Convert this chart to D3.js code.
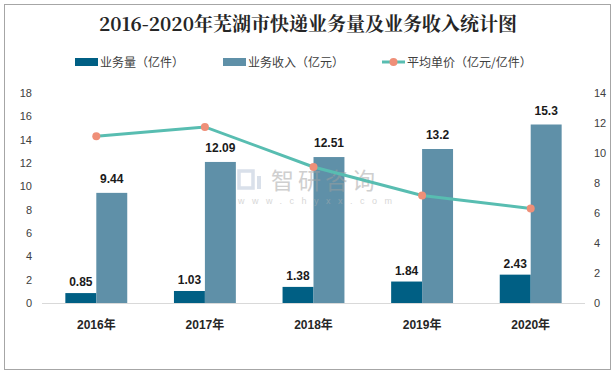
<!DOCTYPE html>
<html>
<head>
<meta charset="utf-8">
<script src="https://cdn.jsdelivr.net/npm/d3@7"></script>
<style>
  body { margin: 0; background: #fff; }
  svg text { font-family: "Liberation Sans", "Noto Sans CJK SC", sans-serif; }
</style>
</head>
<body>
<svg id="chart"></svg>
<script>
const YEARS = ["2016年", "2017年", "2018年", "2019年", "2020年"];
const VOLUME = [0.85, 1.03, 1.38, 1.84, 2.43];
const REVENUE = [9.44, 12.09, 12.51, 13.2, 15.3];
const UNIT_PRICE = [11.11, 11.74, 9.07, 7.17, 6.30];
const LEFT_TICKS = [0, 2, 4, 6, 8, 10, 12, 14, 16, 18];
const RIGHT_TICKS = [0, 2, 4, 6, 8, 10, 12, 14];
const SERIES_NAMES = ["业务量（亿件）", "业务收入（亿元）", "平均单价（亿元/亿件）"];

const WIDTH = 615, HEIGHT = 375;
const PLOT_LEFT = 42, PLOT_RIGHT = 585, PLOT_TOP = 93, PLOT_BOTTOM = 303;
const DARK = "#005f84", LIGHT = "#5f90a8", LINE = "#58bdb1", DOT = "#ef8f78";

const svg = d3.select("#chart").attr("width", WIDTH).attr("height", HEIGHT);

// frame
svg.append("rect")
    .attr("x", 4.5).attr("y", 4.5)
    .attr("width", 606).attr("height", 365)
    .attr("fill", "none")
    .attr("stroke", "#a6a6a6");

// title
svg.append("text")
    .attr("x", 308).attr("y", 31)
    .attr("text-anchor", "middle")
    .style("font-family", "'Noto Serif CJK SC', 'DejaVu Serif', 'Liberation Serif', serif")
    .attr("font-size", 19)
    .attr("font-weight", "bold")
    .attr("fill", "#262626")
    .text("2016-2020年芜湖市快递业务量及业务收入统计图");

const x = d3.scaleBand()
    .domain(YEARS)
    .range([PLOT_LEFT, PLOT_RIGHT])
    .paddingInner(0.43)
    .paddingOuter(0.215);
const xSub = d3.scaleBand()
    .domain([0, 1])
    .range([0, x.bandwidth()]);
const yLeft = d3.scaleLinear().domain([0, 18]).range([PLOT_BOTTOM, PLOT_TOP]);
const yRight = d3.scaleLinear().domain([0, 14]).range([PLOT_BOTTOM, PLOT_TOP]);

// left axis labels
svg.append("g")
    .attr("transform", `translate(32,0)`)
    .call(d3.axisLeft(yLeft).tickValues(LEFT_TICKS).tickSize(0).tickPadding(0))
    .call(g => g.select(".domain").remove())
    .call(g => g.selectAll("text")
        .attr("font-size", 11)
        .attr("fill", "#404040")
        .style("font-family", "'Liberation Sans', sans-serif"));

// right axis labels
svg.append("g")
    .attr("transform", `translate(594,0)`)
    .call(d3.axisRight(yRight).tickValues(RIGHT_TICKS).tickSize(0).tickPadding(0))
    .call(g => g.select(".domain").remove())
    .call(g => g.selectAll("text")
        .attr("font-size", 11)
        .attr("fill", "#404040")
        .style("font-family", "'Liberation Sans', sans-serif"));

// bars
const groups = svg.append("g").selectAll("g")
    .data(YEARS)
    .join("g")
    .attr("transform", d => `translate(${x(d)},0)`);

groups.append("rect")
    .attr("x", xSub(0))
    .attr("width", xSub.bandwidth())
    .attr("y", (d, i) => yLeft(VOLUME[i]))
    .attr("height", (d, i) => PLOT_BOTTOM - yLeft(VOLUME[i]))
    .attr("fill", DARK);

groups.append("rect")
    .attr("x", xSub(1))
    .attr("width", xSub.bandwidth())
    .attr("y", (d, i) => yLeft(REVENUE[i]))
    .attr("height", (d, i) => PLOT_BOTTOM - yLeft(REVENUE[i]))
    .attr("fill", LIGHT);

// baseline
svg.append("line")
    .attr("x1", PLOT_LEFT).attr("x2", PLOT_RIGHT)
    .attr("y1", PLOT_BOTTOM + 0.5).attr("y2", PLOT_BOTTOM + 0.5)
    .attr("stroke", "#d9d9d9");

// watermark (sits above the bars)
const wm = svg.append("g").attr("opacity", 0.5);
wm.append("rect").attr("x", 239).attr("y", 171).attr("width", 14).attr("height", 17)
    .attr("fill", "none").attr("stroke", "#b4c2d6").attr("stroke-width", 3.5);
wm.append("rect").attr("x", 257).attr("y", 176).attr("width", 4).attr("height", 13)
    .attr("fill", "#b4c2d6");
wm.append("text")
    .attr("x", 271).attr("y", 189)
    .attr("font-size", 23)
    .attr("fill", "#a0a0a0")
    .attr("letter-spacing", 4)
    .text("智研咨询");
wm.append("text")
    .attr("x", 238).attr("y", 204)
    .attr("font-size", 9)
    .attr("fill", "#b0b0b0")
    .attr("letter-spacing", 7.5)
    .text("www.chyxx.com");

// bar value labels
groups.append("text")
    .attr("x", xSub(0) + xSub.bandwidth() / 2)
    .attr("y", (d, i) => yLeft(VOLUME[i]) - 7)
    .attr("text-anchor", "middle")
    .attr("font-size", 12)
    .attr("font-weight", "bold")
    .attr("fill", "#1a1a1a")
    .text((d, i) => VOLUME[i]);

groups.append("text")
    .attr("x", xSub(1) + xSub.bandwidth() / 2)
    .attr("y", (d, i) => yLeft(REVENUE[i]) - 10)
    .attr("text-anchor", "middle")
    .attr("font-size", 12)
    .attr("font-weight", "bold")
    .attr("fill", "#1a1a1a")
    .text((d, i) => REVENUE[i]);

// x labels
svg.append("g")
    .attr("transform", `translate(0,${PLOT_BOTTOM})`)
    .call(d3.axisBottom(x).tickSize(0).tickPadding(17))
    .call(g => g.select(".domain").remove())
    .call(g => g.selectAll("text")
        .attr("font-size", 12)
        .attr("font-weight", "bold")
        .attr("fill", "#262626")
        .style("font-family", "'Liberation Sans', 'Noto Sans CJK SC', sans-serif"));

// price line
const cx = d => x(d) + x.bandwidth() / 2;
const line = d3.line()
    .x((d, i) => cx(YEARS[i]))
    .y(d => yRight(d));

svg.append("path")
    .datum(UNIT_PRICE)
    .attr("d", line)
    .attr("fill", "none")
    .attr("stroke", LINE)
    .attr("stroke-width", 3);

svg.append("g").selectAll("circle")
    .data(UNIT_PRICE)
    .join("circle")
    .attr("cx", (d, i) => cx(YEARS[i]))
    .attr("cy", d => yRight(d))
    .attr("r", 4)
    .attr("fill", DOT);

// legend
const legend = svg.append("g").attr("font-size", 12).attr("fill", "#404040");
const LEGEND_X = [75, 223, 382];
const LEGEND_Y = 62;

legend.append("rect").attr("x", LEGEND_X[0]).attr("y", LEGEND_Y - 4)
    .attr("width", 23).attr("height", 8).attr("fill", DARK);
legend.append("rect").attr("x", LEGEND_X[1]).attr("y", LEGEND_Y - 4)
    .attr("width", 23).attr("height", 8).attr("fill", LIGHT);
legend.append("line")
    .attr("x1", LEGEND_X[2]).attr("x2", LEGEND_X[2] + 23)
    .attr("y1", LEGEND_Y).attr("y2", LEGEND_Y)
    .attr("stroke", LINE).attr("stroke-width", 3);
legend.append("circle")
    .attr("cx", LEGEND_X[2] + 11.5).attr("cy", LEGEND_Y).attr("r", 4).attr("fill", DOT);

SERIES_NAMES.forEach((name, i) => {
    legend.append("text")
        .attr("x", LEGEND_X[i] + 25)
        .attr("y", LEGEND_Y + 4.5)
        .attr("fill", "#404040")
        .style("font-family", "'Noto Sans CJK SC', sans-serif")
        .text(name);
});
</script>
</body>
</html>
